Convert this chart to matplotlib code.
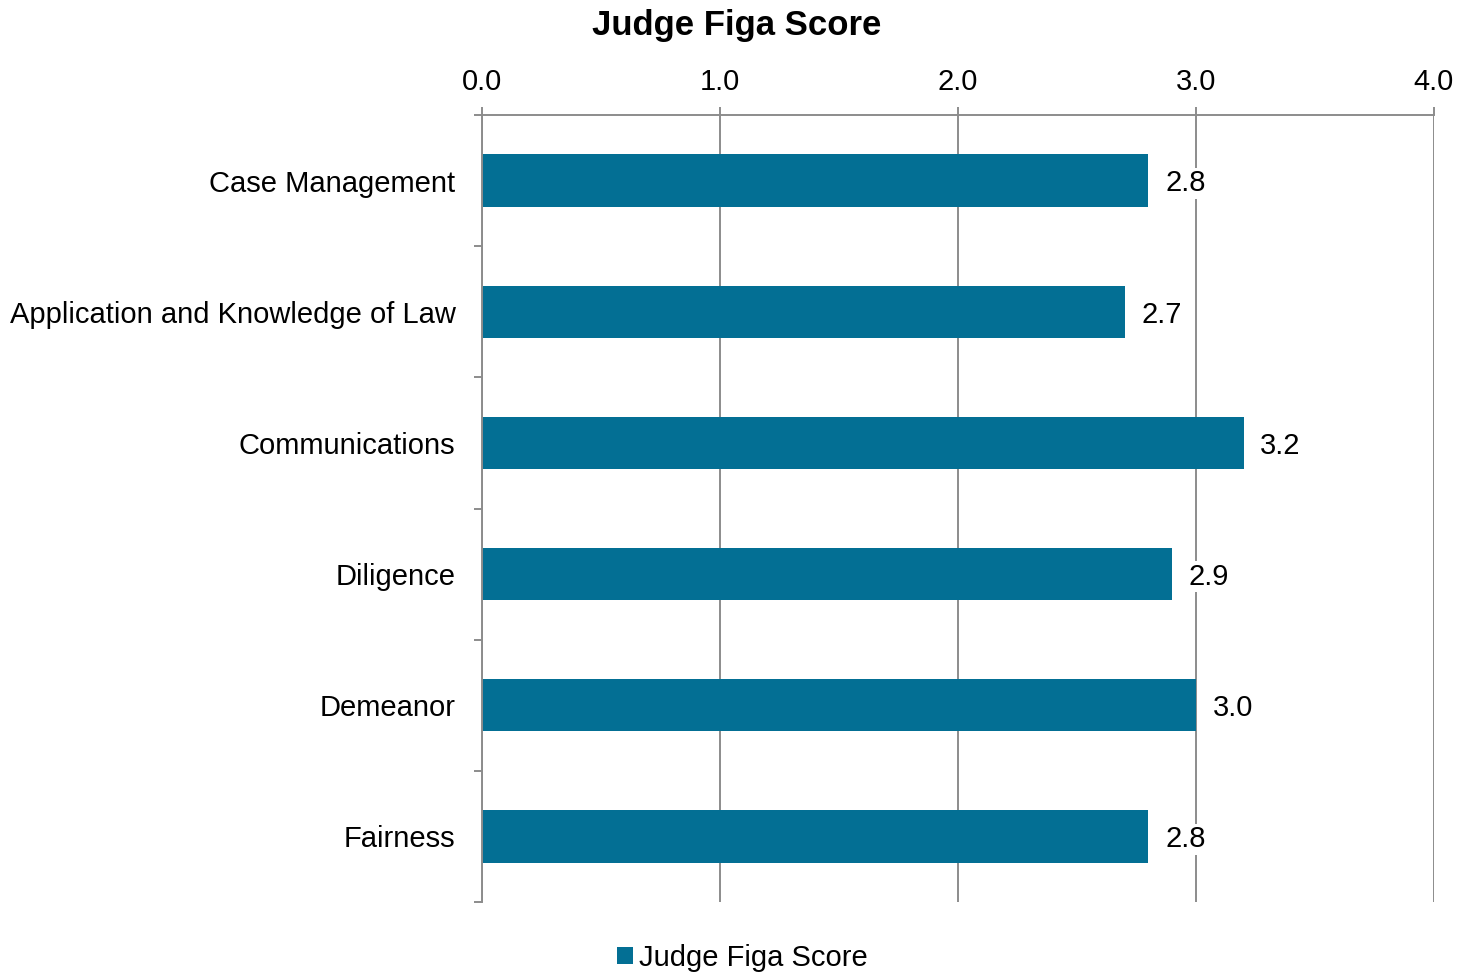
import numpy as np
import matplotlib.pyplot as plt
from matplotlib.patches import Patch

plt.rcParams['font.family'] = ['Liberation Sans', 'DejaVu Sans']

categories = ['Case Management', 'Application and Knowledge of Law', 'Communications',
              'Diligence', 'Demeanor', 'Fairness']
scores = [2.8, 2.7, 3.2, 2.9, 3.0, 2.8]
xticks = [0.0, 1.0, 2.0, 3.0, 4.0]
series_name = 'Judge Figa Score'

bar_color = '#036F94'
grid_color = '#8C8C8C'

fig = plt.figure(figsize=(14.73, 9.75), dpi=100)
ax = fig.add_axes([482 / 1473, 1 - 902 / 975, 952 / 1473, 787 / 975])

y = np.arange(len(categories))
bars = ax.barh(y, scores, height=0.4, color=bar_color, zorder=2)

ax.set_xlim(0, 4)
ax.set_ylim(len(categories) - 0.5, -0.5)

ax.xaxis.tick_top()
ax.set_xticks(xticks)
ax.set_xticklabels([f'{v:.1f}' for v in xticks], fontsize=21)
ax.tick_params(axis='x', which='major', direction='out', length=6, width=1.4,
               color=grid_color, pad=8)

ax.set_yticks(y)
ax.set_yticklabels(categories, fontsize=21)
ax.set_yticks(np.arange(-0.5, len(categories)), minor=True)
ax.tick_params(axis='y', which='major', length=0, pad=19)
ax.tick_params(axis='y', which='minor', direction='out', length=6, width=1.4, color=grid_color)

ax.grid(axis='x', color=grid_color, linewidth=1.4, zorder=0)
ax.set_axisbelow(True)

for side in ['right', 'bottom']:
    ax.spines[side].set_visible(False)
for side in ['left', 'top']:
    ax.spines[side].set_color(grid_color)
    ax.spines[side].set_linewidth(1.4)

for b, v in zip(bars, scores):
    ax.annotate(f'{v:.1f}', xy=(v, b.get_y() + b.get_height() / 2),
                xytext=(12, -2), textcoords='offset points',
                ha='left', va='center', fontsize=21, zorder=3,
                bbox=dict(facecolor='white', edgecolor='none', pad=1))

fig.text(0.5, 1 - 26 / 975, series_name, ha='center', va='center',
         fontsize=25, fontweight='bold')

fig.legend(handles=[Patch(facecolor=bar_color, label=series_name)],
           loc='center', bbox_to_anchor=(742 / 1473, 1 - 958 / 975),
           frameon=False, fontsize=21, handlelength=0.55, handleheight=0.55,
           handletextpad=0.2)

fig.savefig('out.png', dpi=100)
